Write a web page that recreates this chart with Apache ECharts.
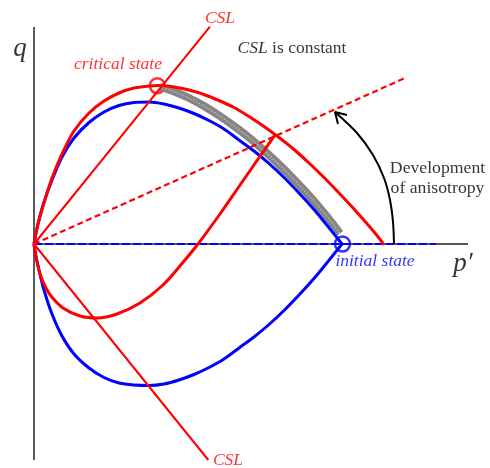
<!DOCTYPE html>
<html>
<head>
    <title></title>
    <meta charset="UTF-8">
    <script type="text/javascript" src="https://cdn.jsdelivr.net/npm/echarts@6/dist/echarts.min.js"></script>
    <style type="text/css">
        html, body { margin: 0; padding: 0; background: #fff; }
        #yield_chart { width: 490px; height: 468px; }
    </style>
</head>
<body>
<div id="yield_chart"></div>

<script type="text/javascript">
    // p' along x, q along y, origin where the axes cross
    var blueUpper = [[0,0],[2,11],[5,24],[10,42],[18,64],[28,87],[40,106],[55,121.5],[70,132],[85,138.5],[100,141.5],[115,142],
        [130,140],[145,136],[160,130.5],[175,123.5],[190,115],[205,104],[220,93],[235,80.5],[250,66.5],[265,51],[280,34.5],
        [292,20],[300,10],[305,3.8],[308,0]];
    var blueLower = [[0,0],[2,-12],[5,-26],[10,-46],[18,-70],[28,-92],[40,-110],[55,-124],[70,-133.5],[85,-139],[100,-141],
        [115,-141.5],[130,-140],[145,-136],[160,-130.5],[175,-123.5],[190,-115],[205,-104],[220,-93],[235,-80.5],[250,-66.5],
        [265,-51],[280,-34.5],[292,-20],[300,-10],[305,-3.8],[308,0]];
    var redOuter = [[0,0],[2,11],[5,24],[10,41],[18,66],[28,90],[40,113],[55,131],[70,143],[85,151],[100,156],[115,158],[125,158.5],
        [140,157],[155,154],[170,149.5],[185,143.5],[200,136.5],[215,127.5],[230,117.5],[245,106.5],[260,94.5],[275,81],
        [290,66.5],[305,51],[320,35],[335,18],[345,6],[350,-1]];
    var redInner = [[0,0],[1,-8],[3,-18],[6,-30],[11,-42],[17,-52],[29,-64],[46,-72],[63,-74],[83,-70],[106,-59],[129,-41],
        [148,-19.5],[164,0],[186,30],[204,56],[222,82],[241,109]];
    var stressPath = [[126,157],[140,152.5],[155,146],[170,138],[185,128.5],[200,118],[215,106.5],[230,93.5],[245,79.5],
        [260,64.5],[275,48.5],[290,31],[300,18.5],[306,10.5]];
    var cslUpper = [[0,0],[176,217.3]];
    var cslLower = [[0,0],[174.3,-216]];
    var anisoAxis = [[0,0],[371.7,166.3]];
    var pAxis = [[0,0],[434,0]];
    var qAxis = [[0,217],[0,-216]];
    var isoAxis = [[0,0],[402,0]];
    var arrowArc = [[360,0],[359,22],[356,44],[350,66],[339,89],[323,111],[301,132]];
    var arrowHead = [[313,129],[301,132],[304,120]];
    var criticalState = [123.3,158.3];
    var initialState = [308.5,0];

    var labelNames = ['q', 'p', 'cslTop', 'critical', 'constant', 'dev1', 'dev2', 'initial', 'cslBottom'];
    var labelTexts = ['q', 'p\u2032', 'CSL', 'critical state', '{i|CSL} is constant', 'Development', 'of anisotropy', 'initial state', 'CSL'];
    var labelAt = [[-14,195],[429,-20],[186,226],[84,180],[258,196],[403.5,76],[403.5,56],[341,-17],[194,-216]];

    var serif = 'Liberation Serif';
    var labelStyle = {
        q:         { color: '#000', fontSize: 27, fontStyle: 'italic' },
        p:         { color: '#000', fontSize: 27, fontStyle: 'italic' },
        cslTop:    { color: '#ff0000', fontSize: 17.5, fontStyle: 'italic' },
        critical:  { color: '#ff0000', fontSize: 17.5, fontStyle: 'italic' },
        constant:  { color: '#000', fontSize: 17.5 },
        dev1:      { color: '#000', fontSize: 17.7 },
        dev2:      { color: '#000', fontSize: 17.7 },
        initial:   { color: '#0000ff', fontSize: 17.5, fontStyle: 'italic' },
        cslBottom: { color: '#ff0000', fontSize: 17.5, fontStyle: 'italic' }
    };

    var labelData = [];
    for (var i = 0; i < labelTexts.length; i++) {
        var st = labelStyle[labelNames[i]];
        labelData.push({
            value: labelAt[i],
            label: {
                show: true,
                position: 'inside',
                align: 'center',
                verticalAlign: 'middle',
                formatter: labelTexts[i],
                fontFamily: serif,
                fontSize: st.fontSize,
                fontStyle: st.fontStyle || 'normal',
                color: st.color,
                rich: {
                    i: { fontFamily: serif, fontSize: st.fontSize, fontStyle: 'italic', color: st.color }
                }
            }
        });
    }

    function lineSeries(data, color, width, type, smooth) {
        return {
            type: 'line',
            data: data,
            smooth: smooth ? 0.3 : false,
            showSymbol: false,
            symbol: 'none',
            silent: true,
            clip: false,
            lineStyle: { color: color, width: width, type: type || 'solid', cap: 'butt' }
        };
    }

    var chart = echarts.init(document.getElementById('yield_chart'));
    chart.setOption({
        animation: false,
        backgroundColor: '#fff',
        grid: { left: 0, right: 0, top: 0, bottom: 0 },
        xAxis: { type: 'value', min: -34, max: 456, show: false },
        yAxis: { type: 'value', min: -224, max: 244, show: false },
        series: [
            lineSeries(qAxis, '#222', 1.5),
            lineSeries(pAxis, '#222', 1.5),
            lineSeries(isoAxis, '#0000ff', 2, [8, 3]),
            lineSeries(stressPath, '#858585', 8, 'solid', true),
            lineSeries(stressPath, '#c8c8c8', 1.5, [1, 2], true),
            lineSeries(blueUpper, '#0000ff', 3, 'solid', true),
            lineSeries(blueLower, '#0000ff', 3, 'solid', true),
            lineSeries(cslUpper, '#ff0000', 2),
            lineSeries(cslLower, '#ff0000', 2),
            lineSeries(anisoAxis, '#ff0000', 2.2, [6, 3.5]),
            lineSeries(redOuter, '#ff0000', 3, 'solid', true),
            lineSeries(redInner, '#ff0000', 3, 'solid', true),
            lineSeries(arrowArc, '#000', 2, 'solid', true),
            lineSeries(arrowHead, '#000', 2),
            {
                type: 'scatter',
                silent: true,
                symbol: 'circle',
                symbolSize: 15,
                data: [
                    { value: criticalState, itemStyle: { color: '#fff', borderColor: '#ff0000', borderWidth: 2.5 } },
                    { value: initialState, itemStyle: { color: '#fff', borderColor: '#0000ff', borderWidth: 2.5 } }
                ]
            },
            {
                type: 'scatter',
                silent: true,
                symbolSize: 0,
                data: labelData
            }
        ]
    });
</script>
</body>
</html>
